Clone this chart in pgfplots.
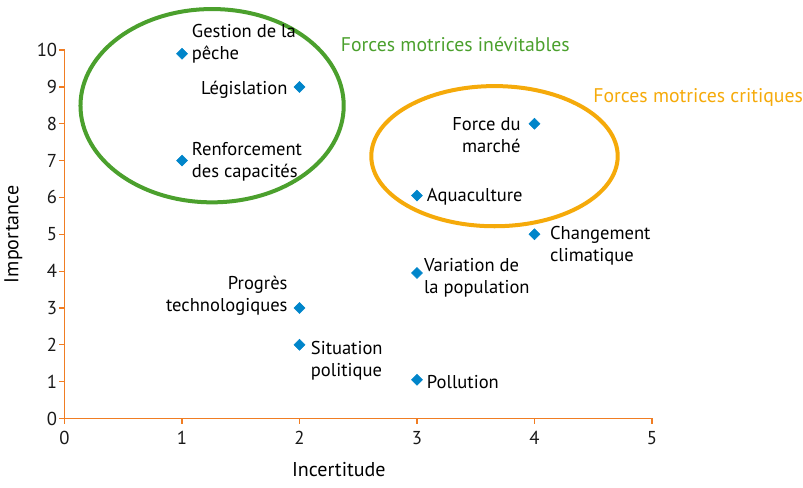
\documentclass[border=0pt]{standalone}
\usepackage{pgfplots}
\pgfplotsset{compat=1.18}
\usepackage{fontspec}
\setmainfont{PT Sans}
\definecolor{axorange}{RGB}{240,125,35}
\definecolor{ptblue}{RGB}{0,133,202}
\definecolor{elgreen}{RGB}{75,160,45}
\definecolor{elorange}{RGB}{245,170,10}
\tikzset{lbl/.style={inner sep=0pt, font=\fontsize{13.9}{16.5}\selectfont}}
\begin{document}
\begin{tikzpicture}[x=1pt,y=1pt]
\begin{axis}[
  scale only axis,
  width=440pt, height=276pt,
  xmin=0, xmax=5, ymin=0, ymax=10,
  xtick={0,1,...,5}, ytick={0,1,...,10},
  axis x line*=bottom, axis y line*=left,
  axis line style={axorange, line width=1.4pt, -},
  tick style={axorange, line width=0.9pt},
  tick align=outside, major tick length=4pt,
  tick label style={font=\fontsize{14}{16}\selectfont, text=black!90},
  xticklabel style={yshift=-2pt},
  yticklabel style={xshift=2pt},
  /pgf/number format/assume math mode=true,
  xlabel={Incertitude}, ylabel={Importance},
  label style={font=\fontsize{15}{18}\selectfont},
  xlabel style={at={(axis description cs:0.467,0)}, anchor=north, yshift=-29pt},
  ylabel style={at={(axis description cs:0,0.5)}, anchor=south, yshift=28pt},
  clip=false,
]
\addplot[only marks, mark=square*, mark size=2.9pt, mark options={rotate=45}, color=ptblue] coordinates {
  (1,9.9) (2,9) (1,7) (4,8) (3,6.05) (4,5) (3,3.95) (2,3) (2,2) (3,1.05)
};
% invisible padding to match the reference margins
\path (axis cs:0,10) ++(0,37.5pt) coordinate (padtop);
\path (axis cs:0,0) ++(0,-51.5pt) coordinate (padbot);
\path (padtop) -- (padbot);
% ellipses
\draw[elgreen, line width=3pt] (axis cs:1.256,8.49) ellipse [x radius=98.6pt, y radius=72.4pt];
\draw[elorange, line width=3pt] (axis cs:3.66,7.12) ellipse [x radius=92.3pt, y radius=52.5pt];
\node[anchor=west, text=elgreen, font=\fontsize{14.8}{17}\selectfont, inner sep=0pt] at (axis cs:2.35,10.14) {Forces motrices inévitables};
\node[anchor=west, text=elorange, font=\fontsize{14.8}{17}\selectfont, inner sep=0pt] at (axis cs:4.5,8.7) {Forces motrices critiques};
% point labels
\node[lbl, anchor=west, align=left] at (axis cs:1.082,10.16) {Gestion de la\\pêche};
\node[lbl, anchor=east, align=right] at (axis cs:1.90,8.91) {Législation};
\node[lbl, anchor=west, align=left] at (axis cs:1.082,6.96) {Renforcement\\des capacités};
\node[lbl, anchor=east, align=right] at (axis cs:3.884,7.69) {Force du\\marché};
\node[lbl, anchor=west, align=left] at (axis cs:3.083,6.01) {Aquaculture};
\node[lbl, anchor=west, align=left] at (axis cs:4.131,4.70) {Changement\\climatique};
\node[lbl, anchor=west, align=left] at (axis cs:3.058,3.83) {Variation de\\la population};
\node[lbl, anchor=east, align=right] at (axis cs:1.90,3.34) {Progrès\\technologiques};
\node[lbl, anchor=west, align=left] at (axis cs:2.095,1.58) {Situation\\politique};
\node[lbl, anchor=west, align=left] at (axis cs:3.083,1.0) {Pollution};
\end{axis}
\end{tikzpicture}
\end{document}
